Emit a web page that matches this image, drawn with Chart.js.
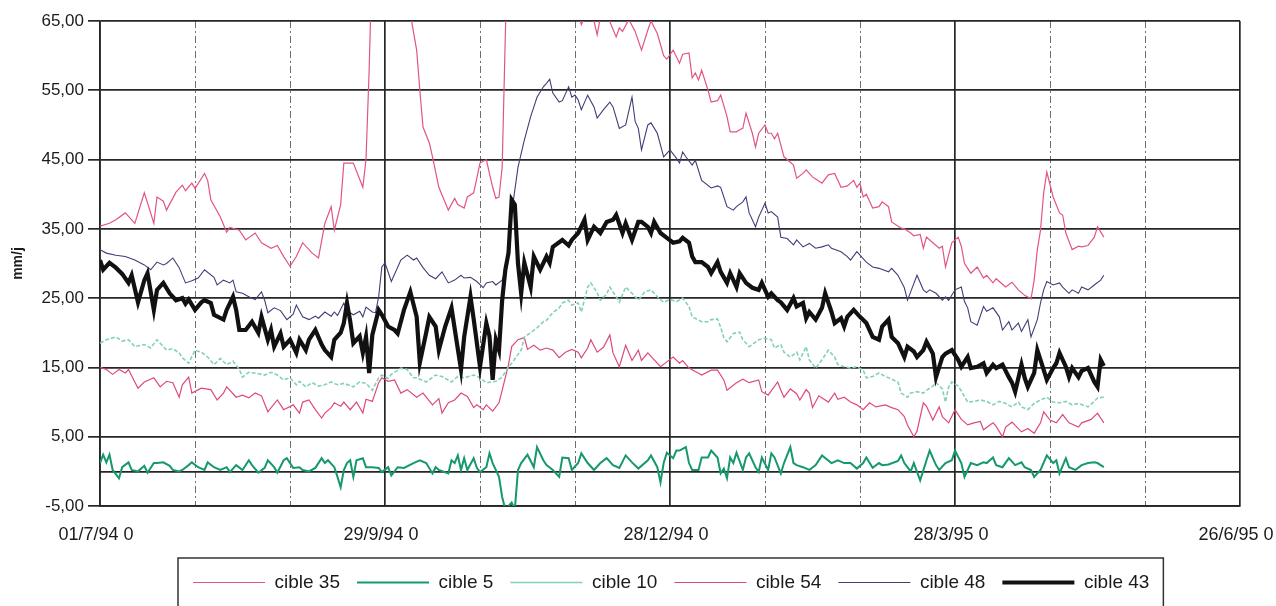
<!DOCTYPE html>
<html>
<head>
<meta charset="utf-8">
<title>cibles mm/j</title>
<script src="https://cdn.jsdelivr.net/npm/chart.js@4.4.1/dist/chart.umd.min.js"></script>
<style>
  html, body { margin: 0; padding: 0; background: #fff; }
  canvas { display: block; }
</style>
</head>
<body>
<canvas id="chart" width="1276" height="606"></canvas>
<script>
// x = jours depuis le 01/7/94, y = mm/j
const dateLabels = ["01/7/94 0", "29/9/94 0", "28/12/94 0", "28/3/95 0", "26/6/95 0"];
const seriesNames = ["cible 35", "cible 5", "cible 10", "cible 54", "cible 48", "cible 43"];

const c35 = [[0,35.4],[3,35.8],[5,36.3],[8,37.3],[11,35.8],[14,40.2],[16,37.3],[17,35.8],[18,39.6],[20,39],[21,37.7],[24,40.3],[26,41.3],[27,40.5],[29,41.6],[30,40.8],[33,43],[34,42],[35,39.2],[38,36.7],[40,34.5],[41,35.2],[44,34.8],[46,33.4],[49,34.4],[51,33],[54,32.2],[56,32.6],[58,31],[60,29.6],[62,31],[64,33],[67,31.5],[69,30.8],[71,35.8],[73,38.2],[74,34.8],[76,38.5],[77,44.5],[80,44.5],[83,41],[84,45],[85,58],[86,75],[90,85],[96,85],[98,66],[100,60.8],[101,55],[102,49.7],[104,47.4],[105,45.4],[107,41],[110,37.7],[112,39.4],[113,38.5],[115,38],[116,39.6],[118,40.2],[120,44.5],[122,45],[124,41],[125,39.4],[126,39.6],[127,43.9],[128,63],[129,80],[135,90],[148,85],[151,66],[152,64.5],[154,66.5],[156,65],[157,63],[158,65.5],[160,66],[163,62.7],[164,64],[165,63.5],[167,65.2],[169,63.5],[171,60.8],[173,63.7],[174,65],[176,63.2],[178,60],[179,59.5],[181,60.8],[183,58.9],[184,60.2],[186,60.4],[187,56.8],[188,57.5],[189,56.5],[190,57.9],[192,55],[193,53.3],[195,53.5],[196,54.3],[198,51.2],[199,49],[201,49],[202,49.3],[203,49.5],[204,51.7],[206,48.8],[207,46.8],[208,48.8],[210,50],[211,48.8],[212,48.8],[213,48],[214,48.8],[216,45.4],[217,45],[219,44.2],[220,42.3],[222,43],[223,43.5],[225,42.5],[226,42.2],[228,41.6],[230,42.8],[232,43],[233,42],[234,41],[236,41.2],[238,42],[239,41],[240,41.6],[241,39.6],[242,40],[244,38],[246,38.2],[247,38.9],[249,38.2],[250,36],[253,35.1],[254,35],[256,34.4],[257,34],[259,34.2],[260,32.2],[261,33.8],[263,33],[265,32.2],[266,32.5],[267,29.5],[269,33],[271,33.8],[272,32.5],[273,30],[275,28.6],[277,29.5],[279,27.9],[280,28.3],[282,27.2],[283,27.8],[285,27],[286,26.6],[288,27.3],[290,26.2],[292,25.4],[294,24.9],[295,27.6],[296,32],[297,34.8],[298,40.2],[299,43.2],[301,39.6],[303,37.3],[304,37],[305,34.4],[307,32],[309,32.5],[310,32.4],[312,32.6],[314,33.8],[315,35.3],[317,33.8]];

const c5 = [[0,1.2],[1,2.4],[2,1.3],[3,2.4],[4,0.2],[6,-1],[7,0.6],[9,1.3],[10,0.2],[12,0],[14,0.8],[15,-0.2],[17,1.2],[18,1.2],[20,1.3],[22,0.8],[23,0.2],[25,0],[26,0.2],[28,0.9],[29,1.3],[31,0.6],[33,0.2],[34,1.3],[36,0.6],[38,0.2],[40,0.6],[41,-0.1],[43,0.9],[45,0.2],[47,1.6],[48,0.9],[50,-0.2],[52,0.5],[53,1.6],[55,0.6],[56,-0.2],[58,1.6],[59,1.9],[61,0.5],[63,0.6],[64,0.2],[66,0],[68,0.5],[70,1.9],[71,1.2],[72,1.6],[74,0.6],[75,-0.8],[76,-2.3],[77,0.2],[78,1.2],[79,1.6],[80,-0.8],[81,1.6],[83,1.9],[84,0.6],[86,0.6],[88,0.5],[89,-0.1],[91,0.6],[92,-0.6],[94,0.6],[96,0.5],[99,1.2],[101,1.6],[103,1.2],[105,-0.3],[106,0.6],[107,0.2],[110,-0.3],[111,1.6],[112,1.2],[113,2.3],[114,0.2],[115,1.9],[116,0.2],[118,1.9],[119,0.5],[120,-0.1],[122,0.6],[123,2.6],[124,1.2],[126,-0.8],[127,-3.7],[128,-5.5],[130,-4.5],[131,-5.5],[132,0.2],[133,1.2],[135,2.4],[137,0.6],[138,3.5],[140,1.6],[141,0.9],[143,0.2],[145,-0.8],[146,2],[148,1.9],[149,0.2],[151,1.2],[152,2.6],[154,1.2],[156,0.2],[158,1.2],[160,1.9],[162,0.9],[164,0.5],[166,2.3],[168,1.3],[170,0.4],[173,1.6],[174,2.3],[176,0.6],[177,-1.6],[178,1.2],[179,2.7],[181,1.9],[182,3],[183,3],[185,3.5],[186,1.2],[187,0.2],[189,0.2],[190,2],[192,2],[193,3],[195,2],[196,-0.3],[197,0.4],[198,-1],[199,2],[200,1.2],[201,2.7],[203,0.2],[204,2],[205,2.6],[207,0.6],[208,-0.1],[209,2],[211,0.2],[212,2.6],[213,2],[215,-0.3],[216,1.2],[218,3.5],[219,1.2],[220,0.9],[222,0.6],[224,0.2],[226,0.9],[228,2.3],[231,1.2],[233,1.6],[235,1.2],[237,1.2],[239,0.4],[241,1.2],[242,2],[244,0.5],[246,1.2],[247,0.9],[249,1],[252,1.5],[253,2.3],[254,1.2],[256,0],[257,1.2],[259,-1.3],[261,1.6],[262,3],[264,0.9],[265,0.2],[267,1.2],[269,1.6],[270,3],[272,1.2],[273,-0.8],[274,0.2],[275,1.2],[277,0.9],[279,1.3],[280,1.2],[282,2],[283,0.9],[285,0.6],[287,1.9],[289,0.9],[291,1.3],[292,0.6],[294,0.2],[295,-0.8],[297,0.2],[299,2.3],[301,1.2],[302,1.6],[303,-0.3],[305,1.9],[306,0.6],[308,0.2],[310,0.9],[312,1.2],[314,1.3],[315,1.2],[317,0.6]];

const c10 = [[0,18.5],[2,19],[5,19.4],[7,18.8],[9,19],[11,18],[14,18.3],[16,17.8],[18,19],[20,18],[21,17.5],[23,17.7],[25,17.1],[26,16.4],[28,15.6],[30,17.5],[32,17.2],[34,16.5],[36,15.4],[38,16.3],[40,15.4],[42,15.9],[44,14.7],[45,13.6],[47,14.3],[50,14.1],[52,13.9],[54,14.3],[56,13.9],[58,13.2],[60,13.5],[62,12.5],[63,13],[65,12.2],[67,12.8],[69,12.3],[71,12.5],[73,12.9],[75,12.5],[77,12.7],[80,12.2],[82,12.9],[84,12.7],[86,11.7],[88,13.5],[89,13.9],[91,13.4],[92,14],[95,14.9],[97,14.7],[99,13.5],[100,13.5],[103,12.9],[106,13.9],[108,13.7],[111,12.9],[113,13.7],[115,13.5],[118,13.9],[120,13.5],[122,12.8],[125,13],[127,13.6],[129,15.1],[130,15.6],[133,17.5],[134,19.4],[136,20],[138,20.7],[140,21.6],[141,21.8],[143,22.9],[145,23.6],[146,24.3],[148,24.7],[149,24],[151,24.3],[152,23],[154,26.6],[155,27.2],[157,25.8],[158,24.7],[160,25.6],[161,26.6],[163,25.2],[164,24.4],[166,26.6],[168,25.7],[170,24.7],[172,25.9],[174,26.2],[176,25.2],[178,24.4],[180,24.8],[182,24.5],[184,25],[186,23.8],[187,22.3],[190,21.6],[192,21.6],[193,21.9],[195,22],[196,20.8],[197,19.3],[198,18.7],[200,19.9],[202,20.1],[203,19],[205,18],[206,18.3],[208,19],[210,19.2],[212,19],[213,17.8],[215,18.3],[216,17.2],[218,16.5],[220,17.2],[221,16.1],[223,18],[224,16.1],[226,14.9],[228,16.1],[230,17.5],[232,16.5],[233,15.4],[235,15.1],[237,14.9],[239,15.1],[241,14.6],[242,13.5],[244,13.7],[246,14.2],[248,13.7],[249,13.5],[252,12.9],[253,11.3],[255,10.7],[256,11.3],[258,11.5],[260,11.3],[261,11.7],[263,12.3],[264,12.8],[266,11.9],[267,10],[268,12.2],[269,12.9],[271,12.3],[272,11.6],[274,10],[276,10.1],[278,10.3],[280,10.1],[282,9.6],[284,10.1],[286,9.8],[288,9.3],[290,10],[291,9.3],[293,8.9],[295,9.8],[297,10.3],[299,10.7],[301,10],[303,9.9],[305,10.1],[307,9.6],[309,9.8],[312,9.3],[314,10.1],[315,10.6],[317,10.7]];

const c54 = [[0,15],[2,14.7],[4,14],[6,14.7],[8,14.2],[9,14.7],[12,12],[14,12.9],[17,13.5],[19,12.2],[21,13],[23,12.8],[25,10.7],[26,12.5],[28,13.6],[29,11.3],[32,12],[35,11.8],[37,10.3],[39,11.3],[40,12.2],[43,10.7],[45,11],[47,10.6],[49,11.3],[51,10.9],[53,8.6],[56,10.3],[58,8.9],[61,9.6],[63,8.4],[64,10],[66,10.3],[68,8.9],[70,7.7],[71,8.4],[73,9.2],[74,9.9],[76,9.4],[77,10],[79,8.9],[81,10],[83,8.4],[84,10.4],[86,10.1],[88,12.8],[89,13.5],[91,13],[93,13.2],[95,11.3],[97,11.8],[100,10.7],[102,11.3],[105,9.6],[107,10.5],[108,8.4],[110,9.9],[112,10.3],[114,11.3],[116,10.8],[118,9.2],[119,9.6],[121,8.9],[122,9.6],[124,8.7],[126,9.9],[127,11.7],[129,15.4],[130,18],[132,19],[134,19.3],[135,17.6],[137,18.2],[139,17.5],[141,17.8],[143,17.5],[145,16.4],[147,17.2],[149,17.6],[151,17.2],[152,16.4],[154,17.8],[155,19],[157,17.2],[159,17.9],[161,19.7],[162,17.1],[164,15.1],[166,18.2],[168,16],[170,17.5],[171,16],[173,17.1],[174,16.6],[177,15.1],[179,15.8],[181,16.5],[183,15.6],[184,16],[186,14.9],[188,14.4],[190,13.9],[193,14.6],[195,14.6],[197,13.2],[198,11.7],[201,12.8],[203,13.3],[205,12.8],[208,13.2],[209,11.5],[211,11],[214,12.9],[215,11.7],[216,10.7],[218,11.9],[220,11.2],[221,10.3],[223,11.8],[224,11.3],[225,9.2],[227,10.9],[230,10],[232,11.3],[233,10.4],[235,10.7],[237,10],[239,9.6],[241,8.9],[243,9.9],[245,9.3],[248,9.6],[250,9.2],[252,8.9],[254,7.9],[255,6.7],[257,5],[258,5.8],[260,9.9],[261,9.4],[263,7.4],[265,9.3],[266,7.9],[268,7],[270,8.9],[272,7.5],[274,6.7],[276,7],[278,7.2],[279,6],[282,7],[283,6.5],[285,5],[286,6.4],[288,7.1],[291,5.7],[293,6.2],[295,5.5],[297,7],[298,8.6],[300,7.4],[302,7],[304,8.2],[306,7],[309,6.4],[310,7],[313,7.5],[315,8.4],[317,7]];

const c48 = [[0,32],[2,31.5],[5,31.2],[8,31],[11,30.5],[14,29.8],[16,29.1],[18,30.2],[20,29.8],[21,30],[23,30.8],[25,29.4],[27,27.2],[29,27.5],[31,27.9],[33,29.1],[36,28],[37,26.9],[39,27.6],[41,27.2],[42,27.6],[43,25.9],[45,25.7],[47,25.2],[49,24.8],[51,25.9],[52,24.7],[53,22.9],[55,23.6],[57,23.2],[59,21.9],[61,22.7],[62,24],[64,22.3],[66,21.9],[68,22.4],[69,22.1],[71,23],[73,22.4],[74,23],[75,22.5],[77,24.3],[78,23.2],[80,22.6],[82,23.1],[83,22.3],[84,23.7],[86,23],[87,22.9],[88,25.2],[89,29.5],[90,30.1],[92,27.4],[95,30.5],[97,31.2],[99,30.5],[100,30.8],[102,29.4],[104,28.3],[106,27.8],[108,28.8],[110,27.2],[112,27.6],[114,28.3],[115,27.9],[117,28],[119,27.4],[121,26.5],[122,27.2],[124,27.4],[125,26.9],[127,27.6],[128,29],[129,33],[130,37.3],[132,43.9],[134,47.8],[136,51.2],[138,54],[140,55.5],[141,56],[142,56.6],[143,54.6],[145,53.3],[146,53.5],[148,55.5],[149,54],[150,54.3],[151,53.6],[152,52.2],[154,54.3],[156,52.6],[157,51],[159,52.2],[161,53.3],[162,52.6],[164,49.5],[166,50],[168,54],[169,50.5],[170,49.5],[171,46.4],[173,50],[174,50.3],[176,48.8],[178,45.4],[180,46.4],[182,45.2],[183,44.5],[184,46.1],[185,45.4],[187,44.2],[188,44.9],[190,42],[193,40.9],[195,41.2],[196,41],[198,38.2],[200,37.7],[201,38.2],[203,38.9],[204,39.6],[205,37.3],[207,35.3],[208,36.7],[210,38.7],[211,37.3],[212,37.5],[214,36.7],[215,33.8],[217,33.6],[219,32.7],[220,33.4],[222,32.4],[224,32.9],[226,32.2],[228,32.4],[230,32.7],[231,32.2],[234,31.7],[236,31],[237,30.5],[239,31.7],[242,30.2],[244,29.5],[246,29.3],[249,28.8],[250,29.3],[252,28.3],[254,26.5],[255,24.7],[256,25.9],[258,28.3],[260,26.2],[261,25.8],[262,26.2],[264,25.7],[266,24.7],[267,25.2],[268,24.7],[270,26.2],[272,26.6],[273,24.5],[274,23.6],[275,21.6],[277,21.1],[279,23.8],[280,23.1],[282,23.6],[284,22.3],[285,20.4],[287,21.6],[288,20.4],[290,21.4],[291,20.2],[293,21.9],[294,19.4],[296,21.9],[297,24.3],[298,26.2],[299,27.4],[301,26.9],[303,27.2],[304,26.6],[306,25.7],[307,26.2],[309,25.7],[310,26.6],[312,26.2],[314,26.9],[316,27.6],[317,28.3]];

const c43 = [[0,30.5],[1,29.1],[3,30.1],[5,29.4],[7,28.5],[9,27.2],[10,28.3],[12,24.4],[14,27.6],[15,28.6],[17,23.3],[18,26.2],[20,27.2],[22,25.7],[24,24.7],[26,25],[27,24.2],[28,24.8],[30,23.3],[32,24.4],[33,24.7],[35,24.3],[36,22.6],[39,21.9],[40,23.3],[42,25.2],[43,23.3],[44,20.4],[46,20.4],[48,21.6],[50,20],[51,22.3],[53,19],[54,20.4],[55,18],[57,19.9],[58,18],[60,19],[62,17.1],[63,19],[65,17.5],[66,19],[68,20.4],[70,18.3],[71,17.5],[73,16.5],[74,19],[76,20],[77,21.4],[78,24.3],[79,21.7],[80,18.5],[82,19.5],[83,17.1],[84,19.4],[85,14.2],[86,19.7],[88,23.3],[89,22.6],[91,20.9],[93,20.4],[94,19.9],[96,23.3],[98,25.9],[100,22.3],[101,15.7],[103,20],[104,22.3],[106,20.9],[107,17.5],[109,20.9],[111,23.6],[112,20.6],[114,14.7],[115,19.4],[117,25.2],[118,22],[120,15.1],[122,21.4],[123,19.5],[124,13.2],[125,19],[126,17.5],[127,24.7],[128,29.1],[129,31.5],[130,39.2],[131,38.5],[132,30],[133,25.7],[134,30.1],[136,26.6],[137,31],[139,29.1],[141,31],[142,30.1],[143,32.4],[146,33.4],[148,32.6],[149,33.4],[151,34.4],[153,36.3],[154,33.4],[156,35.3],[158,34.4],[160,36],[162,36.3],[163,37],[165,34.4],[166,35.8],[168,33.4],[170,36],[171,36],[173,35.3],[174,34.4],[175,36],[177,34.4],[179,33.7],[181,33],[183,33.2],[184,33.7],[186,33],[187,31],[188,30.2],[190,30.2],[192,29.5],[193,28.6],[195,30.2],[196,28.8],[198,27.2],[199,28.6],[201,26.6],[202,28.6],[204,27.2],[206,26.5],[208,26.2],[209,27.2],[211,25.2],[212,25.7],[214,24.7],[215,24.4],[217,23.3],[219,25],[220,23.8],[222,24.3],[223,22.1],[224,23],[226,21.9],[228,23.6],[229,25.7],[231,23],[232,21.4],[234,22.1],[235,20.9],[236,22.3],[238,23.3],[240,22.3],[242,21.4],[244,19.4],[246,19],[247,20.9],[249,21.9],[250,19.4],[252,18.5],[254,16.5],[255,18],[257,17.3],[258,16.5],[260,17.5],[261,18.7],[263,17],[264,13.6],[266,16.5],[267,17],[269,17.5],[271,16.1],[272,15.1],[274,16.5],[275,14.9],[277,15.1],[279,15.6],[280,14.2],[282,15.4],[283,14.9],[285,15.4],[287,13.6],[288,12.8],[289,11.5],[291,15.4],[292,13.5],[293,12.2],[295,14.2],[296,17.5],[297,16.1],[299,13.2],[301,14.9],[302,15.6],[303,17.1],[305,15.1],[306,13.6],[307,14.9],[309,13.6],[310,14.5],[312,14.9],[314,12.9],[315,12.2],[316,16.1],[317,15.2]];

const FONT = "'Liberation Sans', Arial, Helvetica, sans-serif";
const INK = '#1b1b1b';

function pts(arr) {
  return arr.map(p => ({ x: p[0], y: p[1] }));
}

function line(idx, data, color, width, extra) {
  return Object.assign({
    label: seriesNames[idx],
    data: pts(data),
    borderColor: color,
    backgroundColor: color,
    borderWidth: width,
    pointRadius: 0,
    tension: 0,
    fill: false,
    order: 1
  }, extra || {});
}

// cadre autour de la légende + décalage des entrées vers la droite
const legendFrame = {
  id: 'legendFrame',
  afterLayout(chart) {
    const lg = chart.legend;
    if (!lg || !lg.lineWidths) return;
    const pad = lg.options.labels.padding;
    const start = (lg.left + pad + lg.right - lg.lineWidths[0]) / 2;
    const shift = 193 - start;
    lg.left += shift;
    lg.right += shift;
  },
  afterDraw(chart) {
    const lg = chart.legend;
    const boxes = lg.legendHitBoxes;
    if (!boxes || !boxes.length) return;
    const first = boxes[0], last = boxes[boxes.length - 1];
    const ctx = chart.ctx;
    ctx.save();
    ctx.strokeStyle = '#333';
    ctx.lineWidth = 1.5;
    const x0 = first.left - 15;
    const x1 = last.left + last.width + 14;
    ctx.strokeRect(x0, lg.top + 2, x1 - x0, 80);
    ctx.restore();
  }
};

new Chart(document.getElementById('chart'), {
  type: 'line',
  data: {
    datasets: [
      line(0, c35, '#e2557f', 1.2),
      line(1, c5, '#16996a', 2),
      line(2, c10, '#84d2b5', 1.6, { borderDash: [4, 2] }),
      line(3, c54, '#de4a78', 1.2),
      line(4, c48, '#3f3f78', 1.1),
      line(5, c43, '#111111', 4.2, { order: 0 })
    ]
  },
  options: {
    responsive: false,
    animation: false,
    devicePixelRatio: 1,
    layout: { padding: { top: 21, right: 36, left: 0, bottom: 4 } },
    plugins: {
      title: { display: false },
      tooltip: { enabled: false },
      legend: {
        position: 'bottom',
        labels: {
          usePointStyle: true,
          pointStyle: 'line',
          pointStyleWidth: 72,
          padding: 17,
          color: INK,
          font: { family: FONT, size: 19 },
          sort: (a, b) => a.datasetIndex - b.datasetIndex
        }
      }
    },
    scales: {
      x: {
        type: 'linear',
        min: 0,
        max: 360,
        ticks: {
          stepSize: 90,
          maxRotation: 0,
          autoSkip: false,
          padding: 18,
          labelOffset: -4,
          color: INK,
          font: { family: FONT, size: 18 },
          callback: v => dateLabels[Math.round(v / 90)]
        },
        grid: { color: '#262626', lineWidth: 1.7, drawTicks: false },
        border: { color: '#262626', width: 1.7 },
        afterFit: s => { s.height = 50; s.paddingRight = 0; s.paddingLeft = 0; }
      },
      // grille secondaire tous les 30 jours, en pointillés
      xMinor: {
        type: 'linear',
        position: 'bottom',
        min: 0,
        max: 360,
        ticks: { display: false, stepSize: 30 },
        grid: {
          drawTicks: false,
          lineWidth: 1,
          color: c => (c.tick && c.tick.value % 90 === 0) ? 'rgba(0,0,0,0)' : '#6f6f6f'
        },
        border: { display: false, dash: [7, 3, 2, 3] },
        afterFit: s => { s.height = 0; s.paddingRight = 0; s.paddingLeft = 0; }
      },
      y: {
        min: -5,
        max: 65,
        ticks: {
          stepSize: 10,
          padding: 4,
          color: INK,
          font: { family: FONT, size: 17 },
          callback: v => v.toFixed(2).replace('.', ',')
        },
        grid: { color: '#262626', lineWidth: 1.7, tickLength: 12 },
        border: { color: '#262626', width: 1.7 },
        title: {
          display: true,
          text: 'mm/j',
          color: INK,
          padding: { top: 10, bottom: 0 },
          font: { family: FONT, size: 14, weight: 'bold' }
        },
        afterFit: s => { s.width = 100; }
      },
      // ligne du zéro
      yZero: {
        position: 'left',
        min: -5,
        max: 65,
        ticks: { display: false, stepSize: 5 },
        grid: {
          drawTicks: false,
          lineWidth: 1.7,
          color: c => (c.tick && c.tick.value === 0) ? '#262626' : 'rgba(0,0,0,0)'
        },
        border: { display: false },
        afterFit: s => { s.width = 0; }
      }
    }
  },
  plugins: [legendFrame]
});
</script>
</body>
</html>
